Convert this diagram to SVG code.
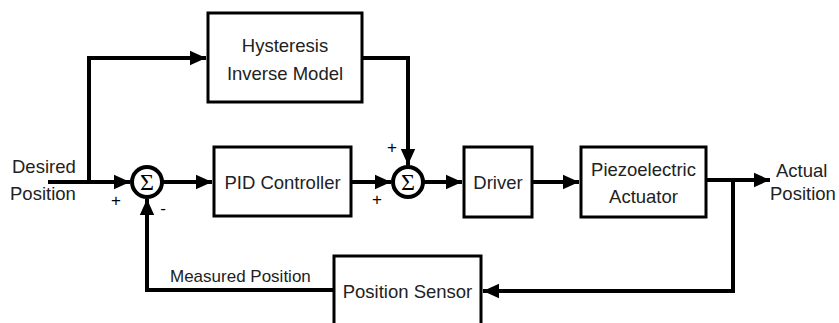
<svg xmlns="http://www.w3.org/2000/svg" width="839" height="323" viewBox="0 0 839 323">
<style>
.box{fill:#fff;stroke:#000;stroke-width:3}
.sum{fill:#fff;stroke:#000;stroke-width:4}
.ln{fill:none;stroke:#000;stroke-width:4}
.t{font-family:"Liberation Sans",Arial,sans-serif;font-size:18.5px;fill:#222}
.s{font-family:"Liberation Serif","Times New Roman",serif;font-size:24px;fill:#000}
.sm{font-family:"Liberation Sans",Arial,sans-serif;font-size:17px;fill:#000}
</style>
<defs>
<marker id="ah" markerWidth="4" markerHeight="4" refX="4" refY="2" orient="auto" markerUnits="strokeWidth">
<path d="M0,0.2 L4,2 L0,3.8 Z" fill="#000"/>
</marker>
</defs>
<rect width="839" height="323" fill="#fff"/>
<g id="connectors">
<path class="ln" d="M48,182 H130" marker-end="url(#ah)"/>
<path class="ln" d="M89,182 V58 H206" marker-end="url(#ah)"/>
<path class="ln" d="M362,58 H408 V165" marker-end="url(#ah)"/>
<path class="ln" d="M162,182 H212" marker-end="url(#ah)"/>
<path class="ln" d="M351,182 H391" marker-end="url(#ah)"/>
<path class="ln" d="M423,182 H462" marker-end="url(#ah)"/>
<path class="ln" d="M532,182 H579" marker-end="url(#ah)"/>
<path class="ln" d="M706,180 H770" marker-end="url(#ah)"/>
<path class="ln" d="M733,180 V291 H483" marker-end="url(#ah)"/>
<path class="ln" d="M334,290 H147 V199" marker-end="url(#ah)"/>
</g>
<g id="hysteresis">
<rect class="box" x="208" y="13" width="154" height="89"/>
<text class="t" x="285" y="52" text-anchor="middle">Hysteresis</text>
<text class="t" x="285" y="80" text-anchor="middle">Inverse Model</text>
</g>
<g id="sum1">
<circle class="sum" cx="147" cy="182" r="15"/>
<text class="s" x="147" y="190" text-anchor="middle">Σ</text>
</g>
<g id="pid">
<rect class="box" x="214" y="147" width="137" height="69"/>
<text class="t" x="282.5" y="189" text-anchor="middle">PID Controller</text>
</g>
<g id="sum2">
<circle class="sum" cx="408" cy="182" r="15"/>
<text class="s" x="408" y="190" text-anchor="middle">Σ</text>
</g>
<g id="driver">
<rect class="box" x="464" y="147" width="68" height="70"/>
<text class="t" x="498" y="189" text-anchor="middle">Driver</text>
</g>
<g id="actuator">
<rect class="box" x="581" y="147" width="125" height="70"/>
<text class="t" x="643.5" y="176" text-anchor="middle">Piezoelectric</text>
<text class="t" x="643.5" y="203" text-anchor="middle">Actuator</text>
</g>
<g id="sensor">
<rect class="box" x="334" y="256" width="147" height="72"/>
<text class="t" x="407.5" y="298" text-anchor="middle">Position Sensor</text>
</g>
<g id="labels">
<text class="t" x="12" y="173">Desired</text>
<text class="t" x="10" y="200">Position</text>
<text class="t" x="776" y="177">Actual</text>
<text class="t" x="770" y="200">Position</text>
<text class="t" x="170" y="282" style="font-size:17px">Measured Position</text>
<text class="sm" x="116" y="206" text-anchor="middle">+</text>
<text class="sm" x="163" y="214" text-anchor="middle">-</text>
<text class="sm" x="377" y="205" text-anchor="middle">+</text>
<text class="sm" x="392" y="153" text-anchor="middle">+</text>
</g>
</svg>
